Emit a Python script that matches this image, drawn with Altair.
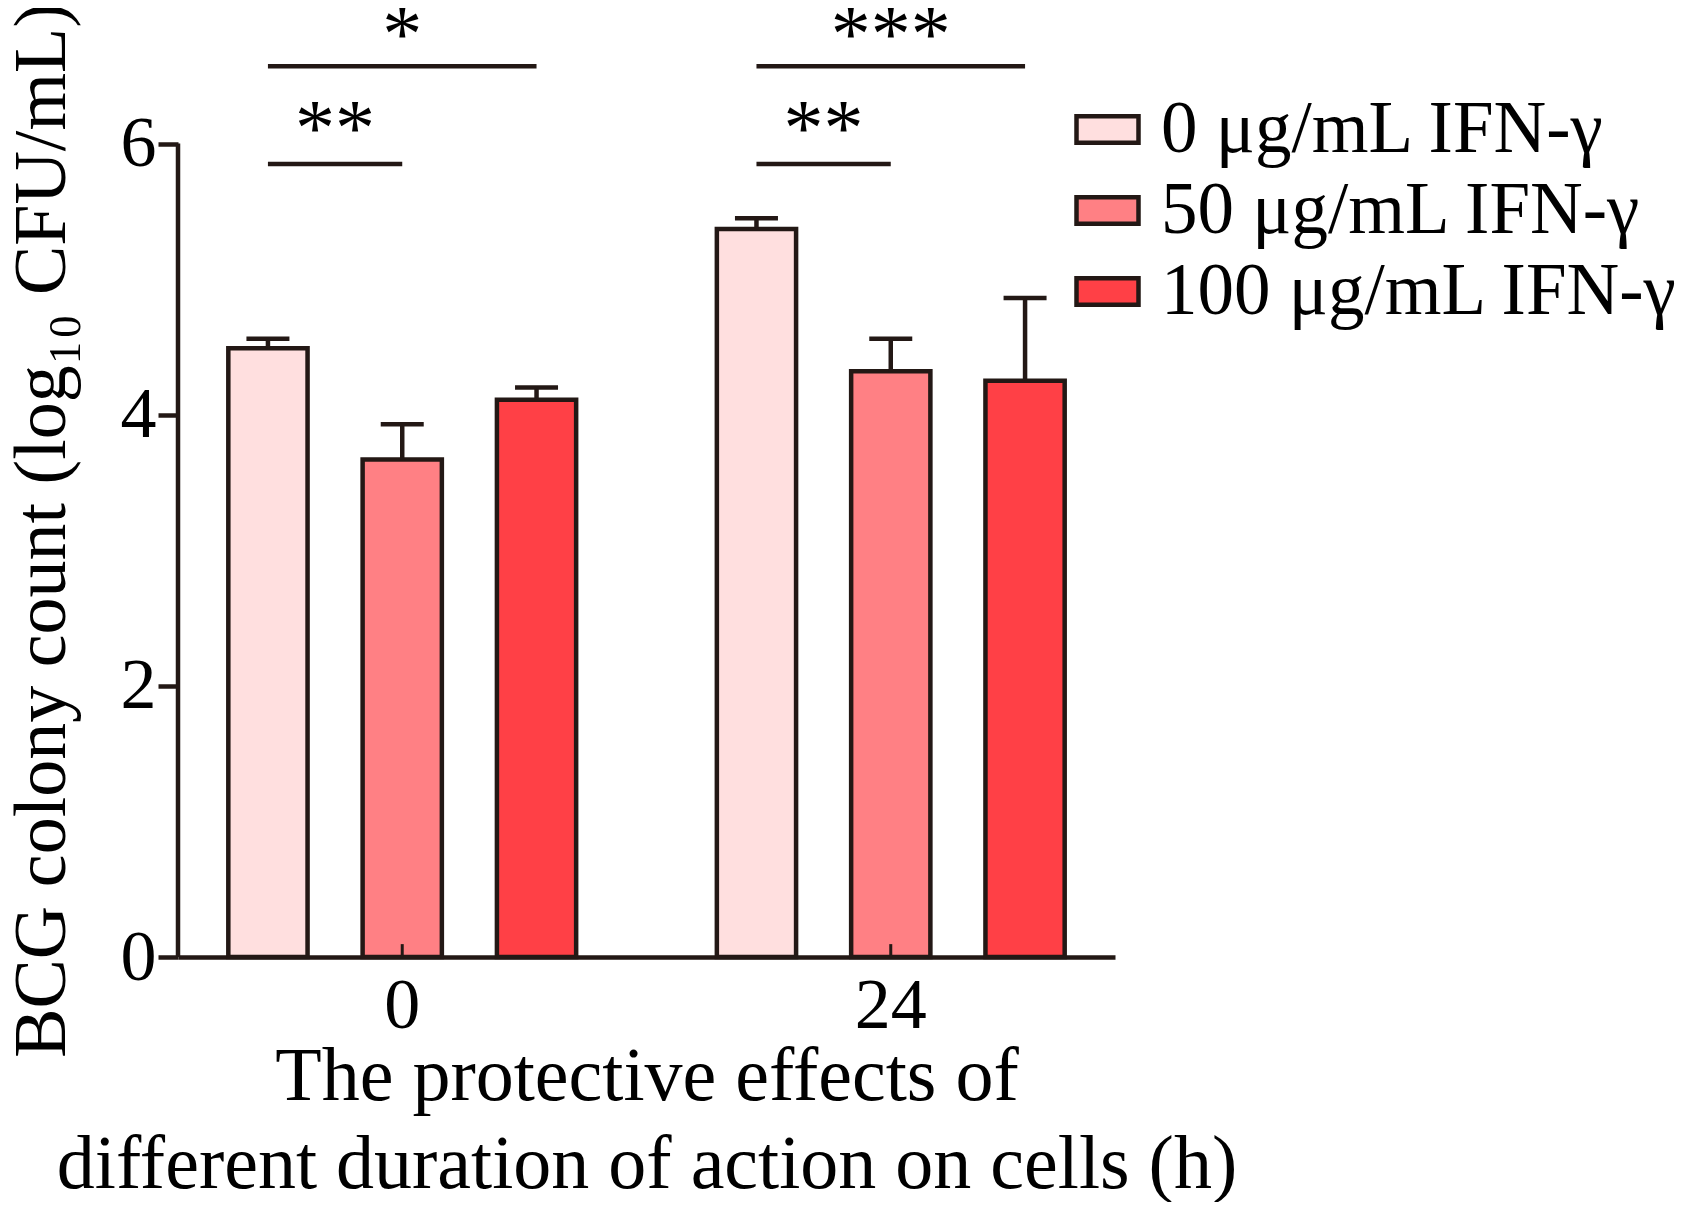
import altair as alt
import pandas as pd

groups = ["0", "24"]
concs = ["0 μg/mL IFN-γ", "50 μg/mL IFN-γ", "100 μg/mL IFN-γ"]
colors = ["#FFDFDF", "#FF8084", "#FF4046"]
means_0h = [4.49, 3.67, 4.11]
means_24h = [5.37, 4.32, 4.25]
err_0h = [0.07, 0.26, 0.09]
err_24h = [0.08, 0.24, 0.61]

# significance brackets: group, from, to, height, label
sig_group = ["0", "0", "24", "24"]
sig_from = [concs[0], concs[0], concs[0], concs[0]]
sig_to = [concs[2], concs[1], concs[2], concs[1]]
sig_y = [6.57, 5.85, 6.57, 5.85]
sig_label = ["*", "**", "***", "**"]

INK = "#231815"
FONT = "Liberation Serif"

rows = []
for g, ms, es in [(groups[0], means_0h, err_0h), (groups[1], means_24h, err_24h)]:
    for c, m, e in zip(concs, ms, es):
        rows.append({"group": g, "conc": c, "mean": m, "upper": m + e})
df = pd.DataFrame(rows)

line_rows = []
text_rows = []
for i, (g, a, b, y, lab) in enumerate(zip(sig_group, sig_from, sig_to, sig_y, sig_label)):
    line_rows.append({"id": i, "group": g, "conc": a, "y": y})
    line_rows.append({"id": i, "group": g, "conc": b, "y": y})
    span2 = (b == concs[2])
    text_rows.append({"group": g, "conc": concs[1] if span2 else concs[0], "y": y,
                      "label": lab, "shift": 0 if span2 else 1})
df_line = pd.DataFrame(line_rows)
df_text = pd.DataFrame(text_rows)

yscale = alt.Scale(domain=[0, 7], nice=False, zero=True)
xscale = alt.Scale(domain=groups, paddingInner=0.288, paddingOuter=0.103)
oscale = alt.Scale(domain=concs, paddingInner=0.41, paddingOuter=0)

xaxis = alt.Axis(title=["The protective effects of",
                        "different duration of action on cells (h)"], labelAngle=0)
yaxis = alt.Axis(title="BCG colony count (log₁₀ CFU/mL)", values=[0, 2, 4, 6])


def X():
    return alt.X("group:N", scale=xscale, sort=groups, axis=xaxis)


def XO():
    return alt.XOffset("conc:N", scale=oscale, sort=concs)


def Y(field):
    return alt.Y(field, scale=yscale, axis=yaxis)


base = alt.Chart(df)

bars = base.mark_bar(stroke=INK, strokeWidth=4.5).encode(
    x=X(), xOffset=XO(), y=Y("mean:Q"),
    fill=alt.Fill("conc:N", sort=concs,
                  scale=alt.Scale(domain=concs, range=colors),
                  legend=alt.Legend(title=None, orient="none", legendX=893, legendY=85,
                                    symbolType="M-1,-0.43L1,-0.43L1,0.43L-1,0.43Z",
                                    symbolSize=3844, symbolStrokeColor=INK,
                                    symbolStrokeWidth=4.5, labelFont=FONT,
                                    labelFontSize=73, labelColor="black",
                                    labelOffset=17, rowPadding=7, padding=0,
                                    labelLimit=800)),
)

err_rule = base.mark_rule(color=INK, strokeWidth=4.5).encode(
    x=X(), xOffset=XO(), y=Y("mean:Q"), y2="upper:Q",
)

err_cap = base.mark_tick(color=INK, thickness=4.5, size=43, orient="horizontal",
                         opacity=1).encode(
    x=X(), xOffset=XO(), y=Y("upper:Q"),
)

xticks = alt.Chart(pd.DataFrame({"group": groups, "lo": [0, 0], "hi": [0.095, 0.095]})).mark_rule(
    color=INK, strokeWidth=3).encode(
    x=X(), y=Y("lo:Q"), y2="hi:Q",
)

yline = alt.Chart(pd.DataFrame({"lo": [0], "hi": [6]})).mark_rule(
    color=INK, strokeWidth=4.5).encode(
    x=alt.value(0), y=Y("lo:Q"), y2="hi:Q",
)

sig_lines = alt.Chart(df_line).mark_line(color=INK, strokeWidth=4.5).encode(
    x=X(), xOffset=XO(), y=Y("y:Q"), detail="id:N",
)

sig_text_centered = alt.Chart(df_text[df_text["shift"] == 0]).mark_text(
    font=FONT, fontSize=80, color="black", baseline="alphabetic", dy=-5).encode(
    x=X(), xOffset=XO(), y=Y("y:Q"), text="label:N",
)
sig_text_shift = alt.Chart(df_text[df_text["shift"] == 1]).mark_text(
    font=FONT, fontSize=80, color="black", baseline="alphabetic", dy=-9, dx=67).encode(
    x=X(), xOffset=XO(), y=Y("y:Q"), text="label:N",
)

chart = alt.layer(
    bars, err_rule, err_cap, xticks, yline, sig_lines, sig_text_centered, sig_text_shift
).properties(
    width=937, height=949,
    autosize=alt.AutoSizeParams(type="none"),
    padding={"left": 170, "top": 0, "right": 565, "bottom": 245},
    background="white",
).configure_view(
    stroke=None
).configure_axis(
    grid=False,
    labelFont=FONT, titleFont=FONT,
    labelColor="black", titleColor="black",
    labelFontSize=72, titleFontSize=76,
    titleFontWeight="normal",
    domainColor=INK, tickColor=INK,
).configure_axisY(
    domain=False, tickSize=20, tickWidth=4.5, labelPadding=2,
    titleFontSize=74,
    titleAngle=-90, titleX=-136, titleY=522, titleAlign="center", titleBaseline="middle",
).configure_axisX(
    domainWidth=4.5, tickSize=0, labelPadding=13, titlePadding=-2,
    titleLineHeight=88,
)

chart.save("out.html", embed_options={"renderer": "svg", "actions": False})
